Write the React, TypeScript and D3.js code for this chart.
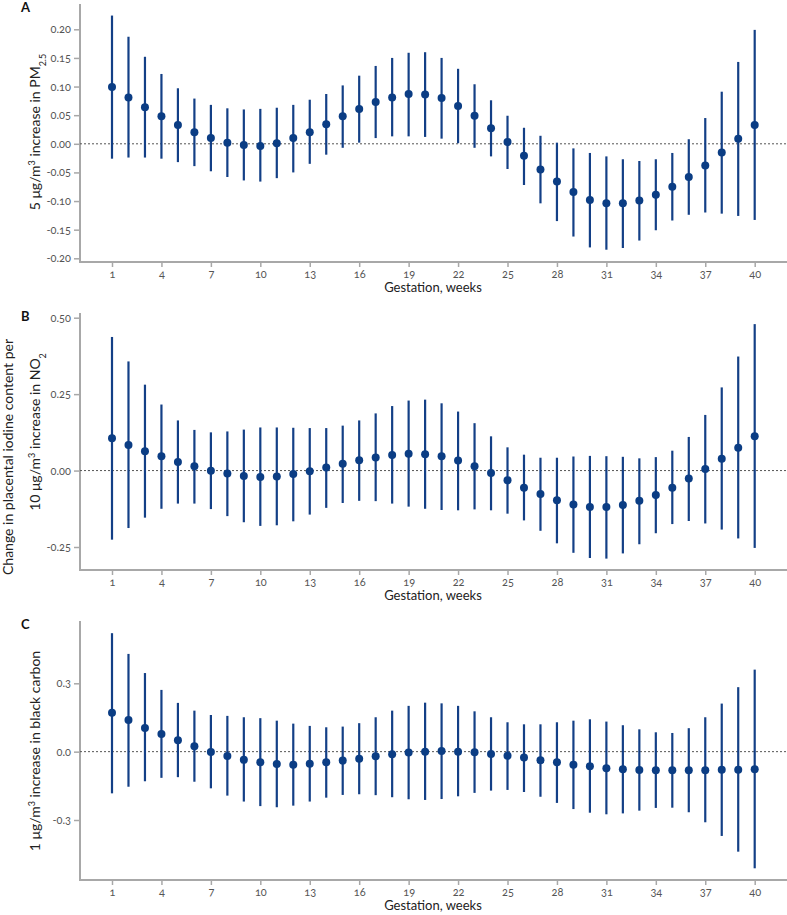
import React, { useRef, useEffect } from 'react';
import { select, scaleLinear, axisLeft, axisBottom, format } from 'd3';

// gestation weeks
const weeks = [1, 2, 3, 4, 5, 6, 7, 8, 9, 10, 11, 12, 13, 14, 15, 16, 17, 18, 19, 20,
  21, 22, 23, 24, 25, 26, 27, 28, 29, 30, 31, 32, 33, 34, 35, 36, 37, 38, 39, 40];
const weekTicks = [1, 4, 7, 10, 13, 16, 19, 22, 25, 28, 31, 34, 37, 40];

// A: PM2.5
const pmEst = [0.099, 0.081, 0.064, 0.048, 0.033, 0.020, 0.010, 0.002, -0.002, -0.004,
  0.001, 0.010, 0.020, 0.034, 0.048, 0.061, 0.073, 0.081, 0.087, 0.086,
  0.080, 0.066, 0.049, 0.027, 0.003, -0.021, -0.045, -0.066, -0.084, -0.098,
  -0.104, -0.104, -0.099, -0.089, -0.075, -0.058, -0.038, -0.015, 0.009, 0.033];
const pmLo = [-0.026, -0.024, -0.024, -0.026, -0.032, -0.039, -0.048, -0.058, -0.064, -0.066,
  -0.060, -0.050, -0.035, -0.019, -0.007, 0.002, 0.010, 0.013, 0.013, 0.012,
  0.009, 0.001, -0.007, -0.022, -0.044, -0.072, -0.104, -0.135, -0.162, -0.181,
  -0.185, -0.182, -0.169, -0.151, -0.134, -0.124, -0.120, -0.122, -0.126, -0.133];
const pmHi = [0.224, 0.187, 0.152, 0.122, 0.097, 0.079, 0.068, 0.062, 0.060, 0.061,
  0.063, 0.068, 0.077, 0.087, 0.102, 0.119, 0.136, 0.150, 0.159, 0.160,
  0.150, 0.131, 0.104, 0.076, 0.049, 0.028, 0.014, 0.002, -0.008, -0.016,
  -0.022, -0.027, -0.030, -0.027, -0.016, 0.008, 0.045, 0.091, 0.143, 0.199];

// B: NO2
const no2Est = [0.106, 0.084, 0.063, 0.047, 0.028, 0.014, -0.001, -0.010, -0.018, -0.021,
  -0.019, -0.011, -0.002, 0.010, 0.022, 0.034, 0.043, 0.051, 0.055, 0.053,
  0.047, 0.033, 0.014, -0.008, -0.032, -0.056, -0.077, -0.097, -0.111, -0.119,
  -0.119, -0.113, -0.099, -0.080, -0.056, -0.026, 0.005, 0.039, 0.075, 0.112];
const no2Lo = [-0.226, -0.188, -0.154, -0.125, -0.108, -0.108, -0.126, -0.149, -0.169, -0.181,
  -0.179, -0.166, -0.144, -0.122, -0.106, -0.099, -0.100, -0.108, -0.118, -0.125,
  -0.129, -0.130, -0.127, -0.130, -0.141, -0.163, -0.197, -0.238, -0.269, -0.286,
  -0.288, -0.271, -0.241, -0.205, -0.175, -0.165, -0.173, -0.193, -0.222, -0.253];
const no2Hi = [0.437, 0.357, 0.281, 0.216, 0.164, 0.133, 0.125, 0.128, 0.134, 0.141,
  0.141, 0.140, 0.139, 0.139, 0.147, 0.164, 0.187, 0.211, 0.229, 0.232,
  0.220, 0.193, 0.155, 0.112, 0.076, 0.052, 0.042, 0.042, 0.046, 0.048,
  0.047, 0.045, 0.040, 0.044, 0.065, 0.110, 0.182, 0.272, 0.373, 0.479];

// C: black carbon
const bcEst = [0.171, 0.139, 0.104, 0.078, 0.050, 0.024, -0.001, -0.019, -0.036, -0.047,
  -0.054, -0.057, -0.053, -0.047, -0.039, -0.031, -0.020, -0.011, -0.004, 0.000,
  0.003, 0.000, -0.003, -0.010, -0.018, -0.026, -0.038, -0.047, -0.057, -0.064,
  -0.073, -0.077, -0.080, -0.082, -0.082, -0.082, -0.082, -0.079, -0.079, -0.077];
const bcLo = [-0.183, -0.154, -0.130, -0.115, -0.112, -0.132, -0.161, -0.193, -0.219, -0.239,
  -0.244, -0.237, -0.219, -0.202, -0.190, -0.187, -0.191, -0.200, -0.209, -0.212,
  -0.208, -0.196, -0.181, -0.171, -0.168, -0.177, -0.198, -0.225, -0.252, -0.268,
  -0.275, -0.271, -0.259, -0.247, -0.246, -0.266, -0.310, -0.370, -0.439, -0.512];
const bcHi = [0.520, 0.429, 0.345, 0.271, 0.214, 0.180, 0.161, 0.157, 0.151, 0.147,
  0.136, 0.123, 0.113, 0.107, 0.110, 0.125, 0.151, 0.180, 0.201, 0.215,
  0.212, 0.201, 0.177, 0.151, 0.129, 0.120, 0.120, 0.129, 0.136, 0.142,
  0.132, 0.116, 0.098, 0.085, 0.082, 0.103, 0.151, 0.211, 0.283, 0.360];

const pmTicks = [-0.2, -0.15, -0.1, -0.05, 0, 0.05, 0.1, 0.15, 0.2];
const no2Ticks = [-0.25, 0, 0.25, 0.5];
const bcTicks = [-0.3, 0, 0.3];

const W = 787;
const H = 915;
const BLUE = '#133f86';
const FONT = 'Lato, "Open Sans", sans-serif';

function App() {
  const svgRef = useRef();

  useEffect(() => {
    const svg = select(svgRef.current);
    svg.selectAll('*').remove();

    const xScale = scaleLinear().domain([1, 40]).range([112, 754.7]);
    const left = 80;

    const panels = [
      { letter: 'A', est: pmEst, lo: pmLo, hi: pmHi, ticks: pmTicks, fmt: format('.2f'),
        dom: [-0.2, 0.2], rng: [258.3, 29.3], top: 4, bottom: 262 },
      { letter: 'B', est: no2Est, lo: no2Lo, hi: no2Hi, ticks: no2Ticks, fmt: format('.2f'),
        dom: [-0.25, 0.5], rng: [547, 317.7], top: 313, bottom: 570 },
      { letter: 'C', est: bcEst, lo: bcLo, hi: bcHi, ticks: bcTicks, fmt: format('.1f'),
        dom: [-0.3, 0.3], rng: [820, 683.3], top: 621, bottom: 880 },
    ];

    panels.forEach((p) => {
      const yScale = scaleLinear().domain(p.dom).range(p.rng);
      const g = svg.append('g');

      // y axis
      const yAxis = axisLeft(yScale).tickValues(p.ticks).tickSize(6).tickPadding(3)
        .tickFormat((d) => p.fmt(d).replace('−', '-'));
      const ya = g.append('g').attr('transform', `translate(${left},0)`).call(yAxis);
      ya.select('.domain').remove();
      ya.selectAll('.tick line').attr('stroke', '#a8a8a8').attr('stroke-width', 1.5);
      ya.selectAll('.tick text').attr('fill', '#555').style('font-size', '11px')
        .style('font-family', FONT).style('font-variant-numeric', 'oldstyle-nums');

      // x axis
      const xAxis = axisBottom(xScale).tickValues(weekTicks).tickSize(5).tickPadding(3)
        .tickFormat((d) => String(d));
      const xa = g.append('g').attr('transform', `translate(0,${p.bottom})`).call(xAxis);
      xa.select('.domain').remove();
      xa.selectAll('.tick line').attr('stroke', '#a8a8a8').attr('stroke-width', 1.5);
      xa.selectAll('.tick text').attr('fill', '#555').style('font-size', '11px')
        .style('font-family', FONT).style('font-variant-numeric', 'oldstyle-nums');

      // axis lines
      g.append('line').attr('x1', left).attr('x2', left).attr('y1', p.top).attr('y2', p.bottom + 1)
        .attr('stroke', '#a8a8a8').attr('stroke-width', 2);
      g.append('line').attr('x1', left).attr('x2', W).attr('y1', p.bottom).attr('y2', p.bottom)
        .attr('stroke', '#a8a8a8').attr('stroke-width', 2);

      // zero reference
      g.append('line').attr('x1', left).attr('x2', W).attr('y1', yScale(0)).attr('y2', yScale(0))
        .attr('stroke', '#555').attr('stroke-width', 1).attr('stroke-dasharray', '2,2');

      // CI bars
      g.selectAll('.ci').data(weeks).join('line').attr('class', 'ci')
        .attr('x1', (w) => xScale(w)).attr('x2', (w) => xScale(w))
        .attr('y1', (w, i) => yScale(p.lo[i])).attr('y2', (w, i) => yScale(p.hi[i]))
        .attr('stroke', BLUE).attr('stroke-width', 2.2);

      // estimates
      g.selectAll('.pt').data(weeks).join('circle').attr('class', 'pt')
        .attr('cx', (w) => xScale(w)).attr('cy', (w, i) => yScale(p.est[i]))
        .attr('r', 4).attr('fill', '#0b3d84');

      // x title
      g.append('text').attr('x', 433).attr('y', p.bottom + 30).attr('text-anchor', 'middle')
        .style('font-family', FONT).style('font-size', '13px').attr('fill', '#222')
        .text('Gestation, weeks');

      // panel letter
      g.append('text').attr('x', 21).attr('y', p.top + 8).style('font-family', FONT)
        .style('font-size', '13px').style('font-weight', 'bold').attr('fill', '#111')
        .text(p.letter);
    });

    const ylab = (x, y) => svg.append('text')
      .attr('transform', `translate(${x},${y}) rotate(-90)`)
      .attr('text-anchor', 'middle').style('font-family', FONT).style('font-size', '14px')
      .attr('fill', '#222');

    const a = ylab(40, 132);
    a.append('tspan').text('5 μg/m');
    a.append('tspan').attr('baseline-shift', 'super').style('font-size', '9px').text('3');
    a.append('tspan').text(' increase in PM');
    a.append('tspan').attr('baseline-shift', 'sub').style('font-size', '9px').text('2.5');

    ylab(13, 457).text('Change in placental iodine content per');
    const b = ylab(40, 432);
    b.append('tspan').text('10 μg/m');
    b.append('tspan').attr('baseline-shift', 'super').style('font-size', '9px').text('3');
    b.append('tspan').text(' increase in NO');
    b.append('tspan').attr('baseline-shift', 'sub').style('font-size', '9px').text('2');

    const c = ylab(40, 751);
    c.append('tspan').text('1 μg/m');
    c.append('tspan').attr('baseline-shift', 'super').style('font-size', '9px').text('3');
    c.append('tspan').text(' increase in black carbon');
  }, []);

  return (
    <svg ref={svgRef} width={W} height={H}
      style={{ position: 'absolute', left: 0, top: 0, background: '#fff' }} />
  );
}

export default App;
